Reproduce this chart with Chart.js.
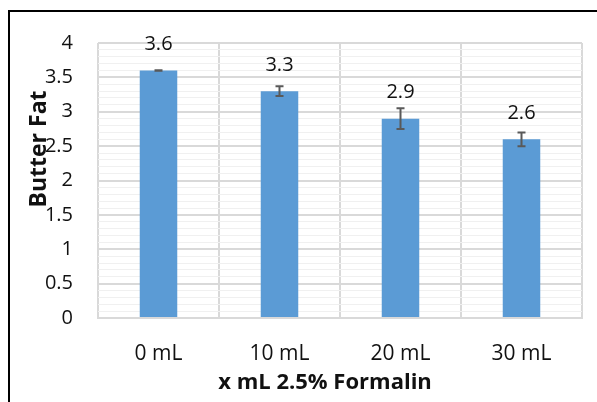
<!DOCTYPE html>
<html>
<head>
<meta charset="utf-8">
<script src="https://cdn.jsdelivr.net/npm/chart.js@4"></script>
<style>
  html, body { margin: 0; padding: 0; background: #fff; }
  #wrap { position: relative; width: 597px; height: 402px; }
  #frame { position: absolute; left: 8px; top: 10px; right: -4px; bottom: -4px;
           border-left: 2px solid #000; border-top: 2px solid #000; pointer-events: none; }
  canvas { position: absolute; left: 0; top: 0; }
</style>
</head>
<body>
<div id="wrap">
  <canvas id="chartBar" width="597" height="402"></canvas>
  <div id="frame"></div>
</div>
<script>
"use strict";

var categories = ['0 mL', '10 mL', '20 mL', '30 mL'];
var butterFat = [3.6, 3.3, 2.9, 2.6];
var errorBars = [0.005, 0.07, 0.15, 0.1];
var yTitle = 'Butter Fat';
var xTitle = 'x mL 2.5% Formalin';

var FONT = '"Open Sans", Lato, sans-serif';

// barras de error, etiquetas de valor y títulos de ejes
var errorPlugin = {
  id: 'errorBars',
  afterDatasetsDraw: function(chart) {
    var ctx = chart.ctx;
    var meta = chart.getDatasetMeta(0);
    var y = chart.scales.y;
    ctx.save();
    ctx.strokeStyle = '#595959';
    ctx.lineWidth = 2;
    meta.data.forEach(function(bar, i) {
      var top = y.getPixelForValue(butterFat[i] + errorBars[i]);
      var bot = y.getPixelForValue(butterFat[i] - errorBars[i]);
      ctx.beginPath();
      ctx.moveTo(bar.x, top); ctx.lineTo(bar.x, bot);
      ctx.moveTo(bar.x - 4, top); ctx.lineTo(bar.x + 4, top);
      ctx.moveTo(bar.x - 4, bot); ctx.lineTo(bar.x + 4, bot);
      ctx.stroke();
    });
    ctx.fillStyle = '#111';
    ctx.font = '20px ' + FONT;
    ctx.textAlign = 'center';
    ctx.textBaseline = 'middle';
    meta.data.forEach(function(bar, i) {
      ctx.fillText(String(butterFat[i]), bar.x, bar.y - 26);
    });
    // título X (algo a la izquierda del centro, como en el original)
    ctx.font = 'bold 22px ' + FONT;
    ctx.fillText(xTitle, 325, 383);
    // título Y (desplazado hacia arriba)
    ctx.translate(39, 149);
    ctx.rotate(-Math.PI / 2);
    ctx.font = 'bold 23px ' + FONT;
    ctx.fillText(yTitle, 0, 0);
    ctx.restore();
  }
};

new Chart(document.getElementById('chartBar'), {
  type: 'bar',
  data: {
    labels: categories,
    datasets: [{
      data: butterFat,
      backgroundColor: '#5b9bd5',
      barPercentage: 0.31,
      categoryPercentage: 1.0
    }]
  },
  plugins: [errorPlugin],
  options: {
    responsive: false,
    animation: false,
    events: [],
    layout: { padding: { left: 0, top: 43, right: 15, bottom: 0 } },
    plugins: { legend: { display: false }, tooltip: { enabled: false } },
    scales: {
      x: {
        grid: { color: '#d9d9d9', lineWidth: 2, drawTicks: false },
        border: { color: '#d9d9d9', width: 2 },
        ticks: { color: '#111', font: { family: FONT, size: 21 }, padding: 23 },
        afterFit: function(s) { s.height = 84; }
      },
      y: {
        min: 0, max: 4,
        grid: {
          drawTicks: false,
          lineWidth: function(c) { return isMajor(c.tick.value) ? 2 : 1; },
          color: function(c) { return isMajor(c.tick.value) ? '#d9d9d9' : '#f0f0f0'; }
        },
        border: { display: false },
        ticks: {
          stepSize: 0.1, autoSkip: false, padding: 25, color: '#111',
          font: { family: FONT, size: 20 },
          callback: function(v) { return isMajor(v) ? String(Math.round(v * 2) / 2) : ''; }
        },
        afterFit: function(s) { s.width = 98; }
      }
    }
  }
});

function isMajor(v) {
  return Math.abs(v * 2 - Math.round(v * 2)) < 1e-6;
}
</script>
</body>
</html>
